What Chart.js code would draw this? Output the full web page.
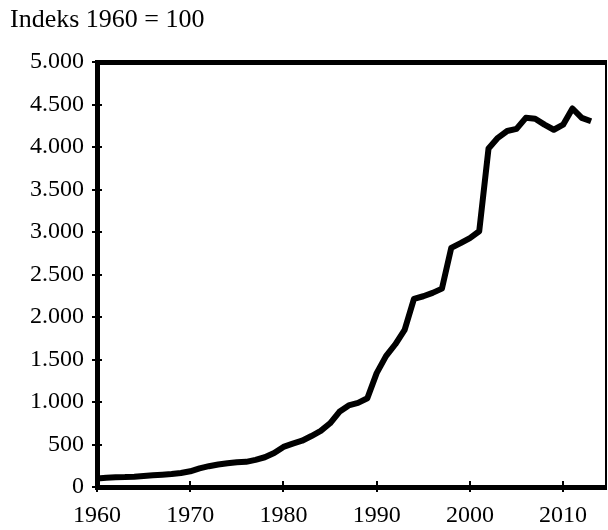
<!DOCTYPE html>
<html>
<head>
<meta charset="utf-8">
<script src="https://cdn.jsdelivr.net/npm/chart.js@4.4.1/dist/chart.umd.min.js"></script>
<style>
    html, body { margin: 0; padding: 0; background: #fff; }
    #wrap { width: 608px; height: 530px; }
</style>
</head>
<body>
<div id="wrap"><canvas id="indeksChart"></canvas></div>
<script>
// Data: år og indeks (1960 = 100)
const years = [
    1960, 1961, 1962, 1963, 1964, 1965, 1966, 1967, 1968, 1969,
    1970, 1971, 1972, 1973, 1974, 1975, 1976, 1977, 1978, 1979,
    1980, 1981, 1982, 1983, 1984, 1985, 1986, 1987, 1988, 1989,
    1990, 1991, 1992, 1993, 1994, 1995, 1996, 1997, 1998, 1999,
    2000, 2001, 2002, 2003, 2004, 2005, 2006, 2007, 2008, 2009,
    2010, 2011, 2012, 2013
];
const indexValues = [
    100, 110, 115, 117, 122, 130, 137, 145, 152, 165,
    185, 220, 245, 265, 280, 292, 296, 320, 350, 400,
    472, 510, 545, 600, 660, 750, 885, 960, 990, 1045,
    1340, 1540, 1680, 1850, 2215, 2245, 2285, 2335, 2815, 2870,
    2930, 3010, 3985, 4110, 4190, 4215, 4345, 4335, 4265, 4205,
    4265, 4455, 4345, 4305
];
const yTicks = [0, 500, 1000, 1500, 2000, 2500, 3000, 3500, 4000, 4500, 5000];
const xTicks = [1960, 1970, 1980, 1990, 2000, 2010];
const titleText = "Indeks 1960 = 100";

const serif = "'Liberation Serif', 'Times New Roman', serif";

// Tusindtalsseparator med punktum
function formatDk(v) {
    return String(v).replace(/\B(?=(\d{3})+(?!\d))/g, ".");
}

// Små tick-streger der går ind i plotområdet
const innerTicks = {
    id: "innerTicks",
    afterDraw(chart) {
        const ctx = chart.ctx;
        const area = chart.chartArea;
        ctx.save();
        ctx.strokeStyle = "#000";
        ctx.lineWidth = 2;
        chart.scales.y.ticks.forEach((t) => {
            const py = Math.round(chart.scales.y.getPixelForValue(t.value));
            ctx.beginPath();
            ctx.moveTo(area.left, py);
            ctx.lineTo(area.left + 5, py);
            ctx.stroke();
        });
        chart.scales.x.ticks.forEach((t) => {
            const px = Math.round(chart.scales.x.getPixelForValue(t.value));
            ctx.beginPath();
            ctx.moveTo(px, area.bottom);
            ctx.lineTo(px, area.bottom - 6);
            ctx.stroke();
        });
        ctx.restore();
    }
};

const ctx = document.getElementById("indeksChart").getContext("2d");
new Chart(ctx, {
    type: "line",
    data: {
        datasets: [{
            data: years.map((y, i) => ({ x: y, y: indexValues[i] })),
            borderColor: "#000",
            borderWidth: 6,
            borderJoinStyle: "round",
            pointRadius: 0,
            tension: 0,
            fill: false
        }]
    },
    options: {
        responsive: true,
        maintainAspectRatio: false,
        animation: false,
        layout: { padding: { left: 10, right: 2, top: 5, bottom: 0 } },
        plugins: {
            legend: { display: false },
            tooltip: { enabled: false },
            title: {
                display: true,
                text: titleText,
                align: "start",
                color: "#000",
                font: { family: serif, size: 26, weight: "normal" },
                padding: { top: 0, bottom: 26 }
            }
        },
        scales: {
            x: {
                type: "linear",
                min: 1960,
                max: 2014.6,
                afterBuildTicks: (scale) => {
                    scale.ticks = xTicks.map((v) => ({ value: v }));
                },
                afterFit: (scale) => { scale.height = 43; },
                ticks: {
                    color: "#000",
                    font: { family: serif, size: 24 },
                    padding: 9,
                    maxRotation: 0,
                    callback: (v) => String(v)
                },
                grid: { drawOnChartArea: false, color: "#000", lineWidth: 2, tickLength: 5 },
                border: { color: "#000", width: 5 }
            },
            xTop: {
                type: "linear",
                position: "top",
                min: 1960,
                max: 2014.6,
                ticks: { display: false },
                grid: { drawOnChartArea: false, drawTicks: false },
                border: { color: "#000", width: 5 }
            },
            y: {
                min: 0,
                max: 5000,
                afterBuildTicks: (scale) => {
                    scale.ticks = yTicks.map((v) => ({ value: v }));
                },
                afterFit: (scale) => { scale.width = 87; },
                ticks: {
                    color: "#000",
                    font: { family: serif, size: 24 },
                    padding: 8,
                    callback: (v) => formatDk(v)
                },
                grid: { drawOnChartArea: false, color: "#000", lineWidth: 2, tickLength: 5 },
                border: { color: "#000", width: 5 }
            },
            yRight: {
                position: "right",
                min: 0,
                max: 5000,
                ticks: { display: false },
                grid: { drawOnChartArea: false, drawTicks: false },
                border: { color: "#000", width: 2 }
            }
        }
    },
    plugins: [innerTicks]
});
</script>
</body>
</html>
